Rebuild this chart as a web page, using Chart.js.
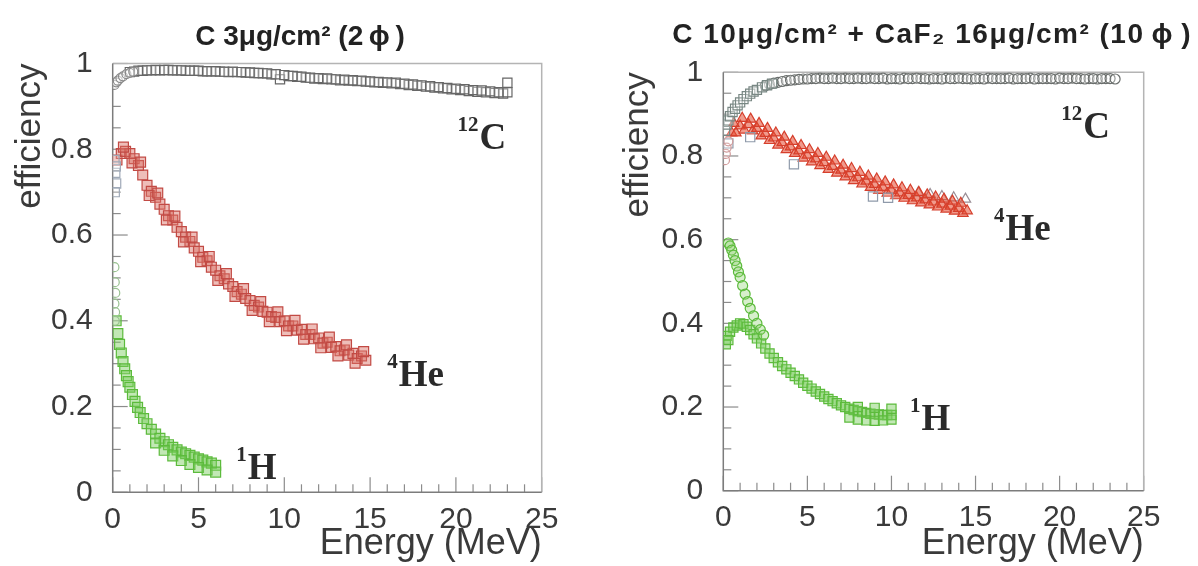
<!DOCTYPE html>
<html>
<head>
<meta charset="utf-8">
<script src="https://cdn.jsdelivr.net/npm/chart.js@4.4.1/dist/chart.umd.min.js"></script>
<style>
    body { margin: 0; background: #fff; width: 1198px; height: 566px; overflow: hidden; position: relative; }
    .panel { position: absolute; top: 0; height: 566px; }
    #left-panel { left: 0; width: 600px; }
    #right-panel { left: 599px; width: 593px; }
</style>
</head>
<body>
<div class="panel" id="left-panel"><canvas id="chart-left" width="600" height="566"></canvas></div>
<div class="panel" id="right-panel"><canvas id="chart-right" width="593" height="566"></canvas></div>
<script>
// ---- left panel: C 3ug/cm2 ----
const cLeftCircE = [0.1, 0.2, 0.3, 0.45, 0.6, 0.8, 1.0, 1.2];
const cLeftCircEff = [0.950, 0.956, 0.960, 0.966, 0.970, 0.975, 0.978, 0.981];

const cLeftSqE = [1.0, 1.5, 2.0, 2.5, 3.0, 3.5, 4.0, 4.5, 5.0, 5.5, 6.0, 6.5, 7.0, 7.5, 8.0, 8.5, 9.0, 9.5, 10.0, 10.5,
    11.0, 11.5, 12.0, 12.5, 13.0, 13.5, 14.0, 14.5, 15.0, 15.5, 16.0, 16.5, 17.0, 17.5, 18.0, 18.5, 19.0, 19.5, 20.0, 20.5,
    21.0, 21.5, 22.0, 22.5, 23.0, 23.0];
const cLeftSqEff = [0.980, 0.983, 0.984, 0.985, 0.985, 0.984, 0.984, 0.983, 0.983, 0.982, 0.982, 0.981, 0.981, 0.980, 0.979, 0.978, 0.977, 0.975, 0.973, 0.971,
    0.969, 0.967, 0.966, 0.965, 0.963, 0.962, 0.961, 0.960, 0.958, 0.957, 0.956, 0.955, 0.953, 0.951, 0.949, 0.947, 0.945, 0.943, 0.941, 0.940,
    0.938, 0.937, 0.935, 0.933, 0.955, 0.933];
const cLeftSq2E = [1.25, 1.75, 2.25, 2.75, 3.25, 3.75, 4.25, 4.75, 5.25, 5.75, 6.25, 6.75, 7.25, 7.75, 8.25, 8.75, 9.25, 9.75, 10.25, 10.75,
    11.25, 11.75, 12.25, 12.75, 13.25, 13.75, 14.25, 14.75, 15.25, 15.75, 16.25, 16.75, 17.25, 17.75, 18.25, 18.75, 19.25, 19.75, 20.25, 20.75,
    21.25, 21.75, 22.25, 22.75];
const cLeftSq2Eff = [0.981, 0.983, 0.984, 0.984, 0.985, 0.984, 0.983, 0.983, 0.982, 0.982, 0.981, 0.980, 0.980, 0.979, 0.978, 0.977, 0.975, 0.963, 0.971, 0.969,
    0.967, 0.965, 0.964, 0.963, 0.961, 0.960, 0.959, 0.958, 0.956, 0.955, 0.954, 0.952, 0.950, 0.948, 0.946, 0.944, 0.942, 0.940, 0.938, 0.936,
    0.934, 0.933, 0.931, 0.930];

const heLeftPaleE = [0.1, 0.15, 0.2, 0.12, 0.18];
const heLeftPaleEff = [0.775, 0.745, 0.720, 0.700, 0.760];

const heLeftE = [0.25, 0.5, 0.75, 1.0, 1.25, 1.5, 1.75, 2.0, 2.25, 2.5, 2.75, 3.0, 3.25, 3.5, 3.75, 4.0, 4.25, 4.5, 4.75, 5.0,
    5.25, 5.5, 5.75, 6.0, 6.25, 6.5, 6.75, 7.0, 7.25, 7.5, 7.75, 8.0, 8.25, 8.5, 8.75, 9.0, 9.25, 9.5, 9.75, 10.0,
    10.25, 10.5, 10.75, 11.0, 11.25, 11.5, 11.75, 12.0, 12.25, 12.5, 12.75, 13.0, 13.25, 13.5, 13.75, 14.0, 14.25, 14.5, 14.75];
const heLeftEff = [0.775, 0.790, 0.795, 0.790, 0.778, 0.762, 0.740, 0.716, 0.702, 0.688, 0.672, 0.660, 0.645, 0.635, 0.618, 0.608, 0.595, 0.585, 0.570, 0.562,
    0.548, 0.540, 0.525, 0.518, 0.505, 0.498, 0.486, 0.480, 0.468, 0.462, 0.452, 0.447, 0.436, 0.432, 0.422, 0.420, 0.410, 0.408, 0.398, 0.400,
    0.388, 0.388, 0.378, 0.380, 0.368, 0.368, 0.358, 0.360, 0.348, 0.350, 0.338, 0.340, 0.330, 0.332, 0.320, 0.324, 0.312, 0.318, 0.308];
const heLeft2E = [0.625, 1.125, 1.625, 2.125, 2.625, 3.125, 3.625, 4.125, 4.625, 5.125, 5.625, 6.125, 6.625, 7.125, 7.625,
    8.125, 8.625, 9.125, 9.625, 10.125, 10.625, 11.125, 11.625, 12.125, 12.625, 13.125, 13.625, 14.125, 14.625];
const heLeft2Eff = [0.805, 0.768, 0.770, 0.692, 0.698, 0.635, 0.644, 0.584, 0.595, 0.538, 0.550, 0.494, 0.510, 0.457, 0.475,
    0.424, 0.445, 0.398, 0.421, 0.377, 0.401, 0.357, 0.381, 0.337, 0.362, 0.318, 0.344, 0.301, 0.328];

const hLeftCircE = [0.1, 0.12, 0.15, 0.1, 0.14, 0.12];
const hLeftCircEff = [0.525, 0.490, 0.465, 0.440, 0.420, 0.400];

const hLeftE = [0.2, 0.3, 0.4, 0.5, 0.6, 0.7, 0.8, 0.9, 1.0, 1.15, 1.3, 1.45, 1.6, 1.8, 2.0, 2.25, 2.5, 2.75, 3.0, 3.25,
    3.5, 3.75, 4.0, 4.25, 4.5, 4.75, 5.0, 5.25, 5.5, 5.75, 6.0, 2.5, 3.0, 3.5, 4.0, 4.5, 5.0, 5.5, 6.0];
const hLeftEff = [0.400, 0.370, 0.345, 0.325, 0.305, 0.288, 0.272, 0.258, 0.245, 0.228, 0.212, 0.198, 0.186, 0.172, 0.160, 0.147, 0.136, 0.126, 0.118, 0.111,
    0.105, 0.099, 0.094, 0.090, 0.086, 0.082, 0.078, 0.075, 0.071, 0.068, 0.063, 0.115, 0.098, 0.085, 0.074, 0.065, 0.058, 0.052, 0.047];

// ---- right panel: C 10ug/cm2 + CaF2 16ug/cm2 ----
const cRightSqE = [0.1, 0.2, 0.3, 0.4, 0.55, 0.7, 0.85, 1.0, 1.2, 1.4, 1.6, 1.8, 2.0, 2.3, 2.6, 2.9];
const cRightSqEff = [0.860, 0.875, 0.885, 0.895, 0.905, 0.913, 0.921, 0.928, 0.936, 0.943, 0.949, 0.954, 0.958, 0.964, 0.969, 0.973];

const cRightCircE = [2.5, 3.0, 3.5, 4.0, 4.5, 5.0, 5.5, 6.0, 6.5, 7.0, 7.5, 8.0, 8.5, 9.0, 9.5, 10.0, 10.5, 11.0, 11.5, 12.0,
    12.5, 13.0, 13.5, 14.0, 14.5, 15.0, 15.5, 16.0, 16.5, 17.0, 17.5, 18.0, 18.5, 19.0, 19.5, 20.0, 20.5, 21.0, 21.5, 22.0,
    22.5, 23.0, 23.3];
const cRightCircEff = [0.968, 0.974, 0.978, 0.981, 0.983, 0.984, 0.985, 0.985, 0.986, 0.985, 0.985, 0.986, 0.985, 0.985, 0.986, 0.985, 0.984, 0.985, 0.986, 0.985,
    0.985, 0.984, 0.985, 0.986, 0.985, 0.985, 0.984, 0.985, 0.985, 0.986, 0.985, 0.985, 0.984, 0.985, 0.985, 0.986, 0.985, 0.985, 0.984, 0.985,
    0.985, 0.985, 0.984];
const cRightCirc2E = [2.75, 3.25, 3.75, 4.25, 4.75, 5.25, 5.75, 6.25, 6.75, 7.25, 7.75, 8.25, 8.75, 9.25, 9.75, 10.25, 10.75, 11.25, 11.75, 12.25,
    12.75, 13.25, 13.75, 14.25, 14.75, 15.25, 15.75, 16.25, 16.75, 17.25, 17.75, 18.25, 18.75, 19.25, 19.75, 20.25, 20.75, 21.25, 21.75, 22.25,
    22.75];
const cRightCirc2Eff = [0.971, 0.976, 0.980, 0.982, 0.984, 0.985, 0.986, 0.985, 0.985, 0.986, 0.985, 0.985, 0.986, 0.985, 0.984, 0.985, 0.986, 0.985, 0.985, 0.984,
    0.985, 0.986, 0.985, 0.985, 0.984, 0.985, 0.986, 0.985, 0.985, 0.984, 0.985, 0.986, 0.985, 0.985, 0.984, 0.985, 0.986, 0.985, 0.985, 0.984,
    0.985];

const heRightCircE = [0.1, 0.15, 0.2, 0.3];
const heRightCircEff = [0.790, 0.805, 0.820, 0.835];

const heRightSqE = [0.3, 1.6, 4.2, 8.9, 9.8];
const heRightSqEff = [0.830, 0.845, 0.780, 0.703, 0.700];

const heRightE = [0.5, 0.75, 1.0, 1.25, 1.5, 1.75, 2.0, 2.25, 2.5, 2.75, 3.0, 3.25, 3.5, 3.75, 4.0, 4.25, 4.5, 4.75, 5.0, 5.25,
    5.5, 5.75, 6.0, 6.25, 6.5, 6.75, 7.0, 7.25, 7.5, 7.75, 8.0, 8.25, 8.5, 8.75, 9.0, 9.25, 9.5, 9.75, 10.0, 10.25,
    10.5, 10.75, 11.0, 11.25, 11.5, 11.75, 12.0, 12.25, 12.5, 12.75, 13.0, 13.25, 13.5, 13.75, 14.0, 14.25, 14.5];
const heRightEff = [0.855, 0.855, 0.872, 0.862, 0.875, 0.860, 0.866, 0.848, 0.854, 0.837, 0.843, 0.826, 0.832, 0.815, 0.822, 0.806, 0.812, 0.795, 0.802, 0.786,
    0.793, 0.777, 0.784, 0.768, 0.775, 0.759, 0.766, 0.750, 0.757, 0.741, 0.748, 0.733, 0.740, 0.725, 0.732, 0.718, 0.725, 0.711, 0.718, 0.705,
    0.712, 0.699, 0.706, 0.693, 0.700, 0.688, 0.695, 0.683, 0.690, 0.678, 0.685, 0.673, 0.680, 0.668, 0.675, 0.663, 0.669];
const heRight2E = [0.625, 1.125, 1.625, 2.125, 2.625, 3.125, 3.625, 4.125, 4.625, 5.125, 5.625, 6.125, 6.625, 7.125,
    7.625, 8.125, 8.625, 9.125, 9.625, 10.125, 10.625, 11.125, 11.625, 12.125, 12.625, 13.125, 13.625, 14.125];
const heRight2Eff = [0.878, 0.890, 0.888, 0.878, 0.866, 0.855, 0.845, 0.835, 0.825, 0.815, 0.806, 0.797, 0.788, 0.778,
    0.770, 0.761, 0.752, 0.745, 0.738, 0.731, 0.724, 0.718, 0.713, 0.707, 0.702, 0.697, 0.692, 0.687];

const heRightOpenE = [11.6, 12.3, 13.0, 13.7, 14.4];
const heRightOpenEff = [0.712, 0.708, 0.703, 0.700, 0.697];

const hRightCircE = [0.3, 0.4, 0.5, 0.6, 0.7, 0.8, 0.9, 1.0, 1.15, 1.3, 1.45, 1.6, 1.8, 2.0, 2.2, 2.4];
const hRightCircEff = [0.592, 0.585, 0.575, 0.563, 0.550, 0.537, 0.523, 0.510, 0.490, 0.470, 0.452, 0.436, 0.418, 0.400, 0.385, 0.372];

const hRightSqE = [0.2, 0.4, 0.6, 0.8, 1.0, 1.2, 1.4, 1.6, 1.8, 2.0, 2.25, 2.5, 2.75, 3.0, 3.25, 3.5, 3.75, 4.0, 4.25, 4.5,
    4.75, 5.0, 5.25, 5.5, 5.75, 6.0, 6.25, 6.5, 6.75, 7.0, 7.25, 7.5, 7.75, 8.0, 8.25, 8.5, 8.75, 9.0, 9.25, 9.5,
    9.75, 10.0, 0.15, 0.3, 7.5, 8.0, 8.5, 9.0, 9.5, 10.0, 8.0, 9.0, 10.0];
const hRightSqEff = [0.370, 0.380, 0.390, 0.395, 0.400, 0.398, 0.392, 0.384, 0.374, 0.364, 0.352, 0.340, 0.328, 0.317, 0.307, 0.298, 0.290, 0.282, 0.274, 0.266,
    0.258, 0.251, 0.244, 0.237, 0.231, 0.225, 0.219, 0.214, 0.209, 0.204, 0.200, 0.196, 0.193, 0.190, 0.188, 0.186, 0.184, 0.183, 0.182, 0.181,
    0.181, 0.181, 0.350, 0.360, 0.175, 0.170, 0.168, 0.167, 0.168, 0.170, 0.200, 0.198, 0.196];

const SANS = '"Liberation Sans", Arial, Helvetica, sans-serif';
const SERIF = '"Liberation Serif", "Times New Roman", serif';

function toPoints(xs, ys) {
    return xs.map((x, i) => ({ x: x, y: ys[i] }));
}

function series(xs, ys, style, radius, border, fill) {
    return {
        data: toPoints(xs, ys),
        pointStyle: style,
        pointRadius: radius,
        pointBorderWidth: 1.2,
        pointBorderColor: border,
        pointBackgroundColor: fill,
        showLine: false
    };
}

// inner ROOT-style ticks and the plot frame
const frameTicks = {
    id: 'frameTicks',
    beforeDatasetsDraw(chart) {
        const { ctx, chartArea: a, scales: { x, y } } = chart;
        ctx.save();
        ctx.lineWidth = 1.2;
        ctx.strokeStyle = '#8c8c8c';
        for (let e = 0; e <= 25; e++) {
            const px = x.getPixelForValue(e);
            const len = e % 5 === 0 ? 15 : 8;
            ctx.beginPath();
            ctx.moveTo(px, a.bottom);
            ctx.lineTo(px, a.bottom - len);
            ctx.stroke();
        }
        for (let k = 0; k <= 20; k++) {
            const py = y.getPixelForValue(k * 0.05);
            const len = k % 4 === 0 ? 15 : 8;
            ctx.beginPath();
            ctx.moveTo(a.left, py);
            ctx.lineTo(a.left + len, py);
            ctx.stroke();
        }
        ctx.lineWidth = 1.5;
        ctx.strokeStyle = '#b4b4b4';
        ctx.beginPath();
        ctx.moveTo(a.left, a.top);
        ctx.lineTo(a.right, a.top);
        ctx.lineTo(a.right, a.bottom);
        ctx.stroke();
        ctx.strokeStyle = '#7c7c7c';
        ctx.beginPath();
        ctx.moveTo(a.left, a.top);
        ctx.lineTo(a.left, a.bottom);
        ctx.lineTo(a.right, a.bottom);
        ctx.stroke();
        ctx.restore();
    }
};

// isotope names written next to each band
const isotopeLabels = {
    id: 'isotopeLabels',
    afterDatasetsDraw(chart, args, opts) {
        const { ctx, scales: { x, y } } = chart;
        ctx.save();
        ctx.fillStyle = '#2a2a2a';
        ctx.textAlign = 'left';
        ctx.textBaseline = 'alphabetic';
        opts.items.forEach(item => {
            let px = x.getPixelForValue(item.e);
            const py = y.getPixelForValue(item.eff);
            ctx.font = 'bold 21px ' + SERIF;
            ctx.fillText(item.mass, px, py - 18);
            px += ctx.measureText(item.mass).width + 1;
            ctx.font = 'bold 37px ' + SERIF;
            ctx.fillText(item.symbol, px, py);
        });
        ctx.restore();
    }
};

// panel heading drawn above the frame
const panelTitle = {
    id: 'panelTitle',
    afterDraw(chart, args, opts) {
        const ctx = chart.ctx;
        ctx.save();
        ctx.fillStyle = '#222';
        ctx.font = 'bold 28px ' + SANS;
        ctx.letterSpacing = opts.spacing;
        ctx.textAlign = opts.align;
        ctx.textBaseline = 'middle';
        ctx.fillText(opts.text, opts.x, opts.y);
        ctx.restore();
    }
};

function makePanel(canvasId, datasets, box, title, labels) {
    const ctx = document.getElementById(canvasId).getContext('2d');
    return new Chart(ctx, {
        type: 'scatter',
        data: { datasets: datasets },
        plugins: [frameTicks, isotopeLabels, panelTitle],
        options: {
            responsive: false,
            animation: false,
            layout: { padding: { left: box.padLeft, right: box.padRight, top: box.top, bottom: 0 } },
            plugins: {
                legend: { display: false },
                tooltip: { enabled: false },
                isotopeLabels: { items: labels },
                panelTitle: title
            },
            scales: {
                x: {
                    type: 'linear',
                    min: 0,
                    max: 25,
                    afterFit: scale => { scale.height = box.xHeight; },
                    border: { display: false },
                    grid: { drawOnChartArea: false, drawTicks: false },
                    ticks: { stepSize: 5, padding: 9, color: '#3a3a3a', font: { family: SANS, size: 30 } },
                    title: {
                        display: true, text: 'Energy (MeV)', align: 'end', color: '#3a3a3a', padding: 0,
                        font: { family: SANS, size: 36 }
                    }
                },
                y: {
                    type: 'linear',
                    min: 0,
                    max: 1,
                    afterFit: scale => { scale.width = box.yWidth; },
                    border: { display: false },
                    grid: { drawOnChartArea: false, drawTicks: false },
                    ticks: {
                        stepSize: 0.2, padding: 20, color: '#3a3a3a', font: { family: SANS, size: 30 },
                        callback: v => String(Math.round(v * 100) / 100)
                    },
                    title: {
                        display: true, text: 'efficiency', align: 'end', color: '#3a3a3a', padding: 0,
                        font: { family: SANS, size: 35 }
                    }
                }
            }
        }
    });
}

const GRAY = '#666666';
const RED_EDGE = '#c24a44';
const RED_FILL = 'rgba(218,110,100,0.45)';
const GREEN_EDGE = '#5cbb3c';
const GREEN_FILL = 'rgba(120,205,90,0.45)';

makePanel('chart-left', [
    series(cLeftCircE, cLeftCircEff, 'circle', 4.5, '#8a8a8a', 'rgba(255,255,255,0.3)'),
    series(cLeftSqE, cLeftSqEff, 'rect', 6.5, GRAY, 'rgba(255,255,255,0.25)'),
    series(cLeftSq2E, cLeftSq2Eff, 'rect', 6.5, GRAY, 'rgba(255,255,255,0.25)'),
    series(heLeftPaleE, heLeftPaleEff, 'rect', 6.5, '#a0aab8', 'rgba(255,255,255,0.2)'),
    series(heLeft2E, heLeft2Eff, 'rect', 7, RED_EDGE, RED_FILL),
    series(heLeftE, heLeftEff, 'rect', 7, RED_EDGE, RED_FILL),
    series(hLeftCircE, hLeftCircEff, 'circle', 4.5, '#98c090', 'rgba(255,255,255,0.2)'),
    series(hLeftE, hLeftEff, 'rect', 7, GREEN_EDGE, GREEN_FILL)
], { padLeft: 9, padRight: 58.3, top: 63.5, yWidth: 103.7, xHeight: 73.7 },
    { text: 'C 3\u03bcg/cm\u00b2 (2\u2009\u03d5\u2009)', align: 'center', x: 300, y: 37, spacing: '0px' },
    [
        { mass: '12', symbol: 'C', e: 20.1, eff: 0.800 },
        { mass: '4', symbol: 'He', e: 16.0, eff: 0.247 },
        { mass: '1', symbol: 'H', e: 7.2, eff: 0.030 }
    ]);

makePanel('chart-right', [
    series(cRightSqE, cRightSqEff, 'rect', 6.5, '#788783', 'rgba(255,255,255,0.25)'),
    series(cRightCircE, cRightCircEff, 'circle', 5, '#6a6e6c', 'rgba(255,255,255,0.3)'),
    series(cRightCirc2E, cRightCirc2Eff, 'circle', 5, '#6a6e6c', 'rgba(255,255,255,0.3)'),
    series(heRightCircE, heRightCircEff, 'circle', 4.5, '#d09a9a', 'rgba(255,255,255,0.2)'),
    series(heRightSqE, heRightSqEff, 'rect', 6.5, '#8f9aaa', 'rgba(255,255,255,0.2)'),
    series(heRight2E, heRight2Eff, 'triangle', 6, '#d63f2c', 'rgba(228,72,48,0.55)'),
    series(heRightE, heRightEff, 'triangle', 6, '#d63f2c', 'rgba(228,72,48,0.55)'),
    series(heRightOpenE, heRightOpenEff, 'triangle', 6, '#9a8e96', 'rgba(255,255,255,0.2)'),
    series(hRightCircE, hRightCircEff, 'circle', 5, GREEN_EDGE, 'rgba(140,210,110,0.35)'),
    series(hRightSqE, hRightSqEff, 'rect', 6.5, GREEN_EDGE, GREEN_FILL)
], { padLeft: 18, padRight: 48.3, top: 72.3, yWidth: 106.3, xHeight: 75.3 },
    { text: 'C 10\u03bcg/cm\u00b2 + CaF\u2082 16\u03bcg/cm\u00b2 (10\u2009\u03d5\u2009)', align: 'right', x: 593, y: 35, spacing: '1.5px' },
    [
        { mass: '12', symbol: 'C', e: 20.1, eff: 0.843 },
        { mass: '4', symbol: 'He', e: 16.1, eff: 0.600 },
        { mass: '1', symbol: 'H', e: 11.1, eff: 0.145 }
    ]);
</script>
</body>
</html>
